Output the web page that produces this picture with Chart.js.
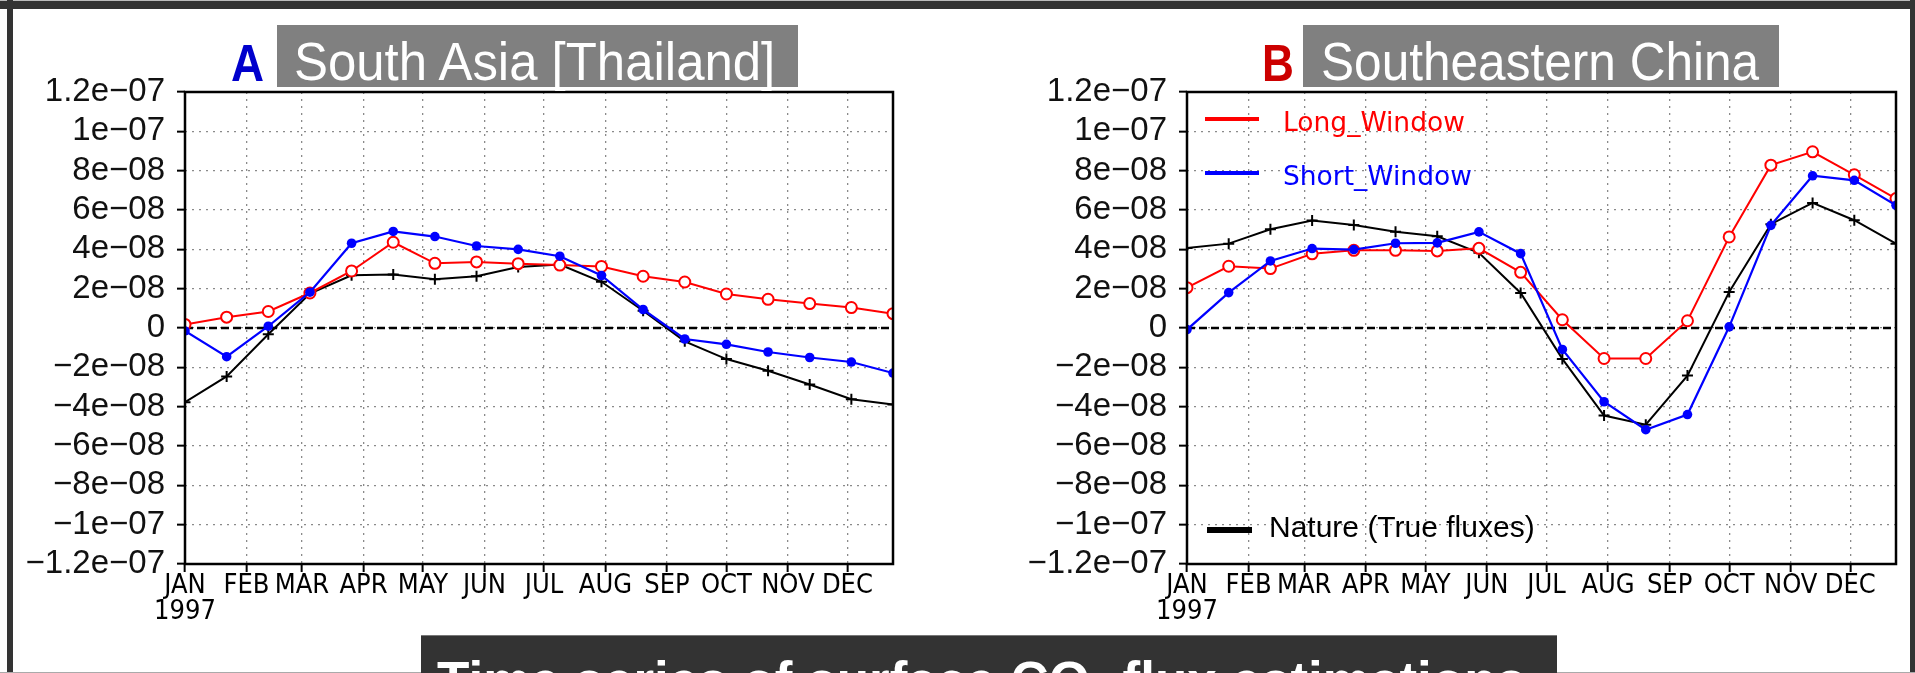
<!DOCTYPE html>
<html><head><meta charset="utf-8">
<script src="https://cdn.jsdelivr.net/npm/chart.js@4"></script>
<style>
html,body{margin:0;padding:0;width:1915px;height:673px;overflow:hidden;background:#fff;}
.abs{position:absolute;white-space:nowrap;line-height:1;}
canvas{position:absolute;top:0;}
.box{position:absolute;}
</style></head><body>
<canvas id="cA" width="940" height="673" style="left:0px"></canvas>
<canvas id="cB" width="913" height="673" style="left:1002px"></canvas>

<!-- frame -->
<div class="box" style="left:0;top:0;width:1915px;height:1px;background:#bbb"></div>
<div class="box" style="left:0;top:1px;width:1915px;height:8px;background:#333"></div>
<div class="box" style="left:7px;top:0;width:6px;height:673px;background:#333"></div>
<div class="box" style="left:1910px;top:0;width:5px;height:673px;background:#333"></div>
<div class="box" style="left:0;top:672px;width:1915px;height:1px;background:#aaa"></div>

<!-- panel titles -->
<div class="abs" style="left:231px;top:33px;font:bold 52px 'Liberation Sans';color:#0000cc;transform:scaleX(0.88);transform-origin:left top">A</div>
<div class="box" style="left:277px;top:25px;width:521px;height:62px;background:#808080"></div>
<div class="abs" style="left:294px;top:30px;font:54px 'Liberation Sans';color:#fff;transform:scaleX(0.943);transform-origin:left top">South Asia [Thailand]</div>

<div class="abs" style="left:1262px;top:33px;font:bold 52px 'Liberation Sans';color:#cc0000;transform:scaleX(0.85);transform-origin:left top">B</div>
<div class="box" style="left:1303px;top:25px;width:476px;height:62px;background:#808080"></div>
<div class="abs" style="left:1321px;top:30px;font:54px 'Liberation Sans';color:#fff;transform:scaleX(0.918);transform-origin:left top">Southeastern China</div>

<!-- legend (panel B) -->
<div class="box" style="left:1205px;top:117px;width:54px;height:4px;background:#ff0000"></div>
<div class="abs" style="left:1283px;top:106px;font:26.5px 'DejaVu Sans';color:#ff0000">Long_Window</div>
<div class="box" style="left:1205px;top:171px;width:54px;height:4px;background:#0000ff"></div>
<div class="abs" style="left:1283px;top:160px;font:26.5px 'DejaVu Sans';color:#0000ff">Short_Window</div>
<div class="box" style="left:1207px;top:527px;width:45px;height:6px;background:#000"></div>
<div class="abs" style="left:1269px;top:510px;font:30px 'Liberation Sans';color:#000">Nature (True fluxes)</div>

<!-- bottom title -->
<div class="box" style="left:421px;top:635px;width:1136px;height:40px;background:#333;border-top:1px solid #777"></div>
<div class="abs" style="left:437px;top:650px;font:bold 53px 'Liberation Sans';color:#fff">Time series of surface CO<sub style="font-size:32px">2</sub> flux estimations</div>

<script>
// ---- data ----
const days = [0, 21, 42, 63, 84, 105, 126, 147, 168, 189, 210, 231, 252, 273, 294, 315, 336, 357];
const axisDays = [0, 357];
const monthStarts = [0, 31, 59, 90, 120, 151, 181, 212, 243, 273, 304, 334];
const monthLabels = ['JAN','FEB','MAR','APR','MAY','JUN','JUL','AUG','SEP','OCT','NOV','DEC'];
const yearLabel = '1997';
const yTicks = [-1.2e-7, -1e-7, -8e-8, -6e-8, -4e-8, -2e-8, 0, 2e-8, 4e-8, 6e-8, 8e-8, 1e-7, 1.2e-7];
const yTickLabels = ['\u22121.2e\u221207','\u22121e\u221207','\u22128e\u221208','\u22126e\u221208','\u22124e\u221208','\u22122e\u221208','0',
                     '2e\u221208','4e\u221208','6e\u221208','8e\u221208','1e\u221207','1.2e\u221207'];

// Panel A: South Asia [Thailand]
const aLong   = [0.18e-8, 0.55e-8, 0.84e-8, 1.78e-8, 2.90e-8, 4.36e-8, 3.29e-8, 3.36e-8, 3.27e-8, 3.20e-8, 3.13e-8, 2.63e-8, 2.34e-8, 1.73e-8, 1.46e-8, 1.24e-8, 1.04e-8, 0.73e-8];
const aShort  = [-0.15e-8, -1.46e-8, 0.09e-8, 1.82e-8, 4.31e-8, 4.91e-8, 4.65e-8, 4.17e-8, 4.00e-8, 3.65e-8, 2.67e-8, 0.94e-8, -0.56e-8, -0.83e-8, -1.22e-8, -1.50e-8, -1.73e-8, -2.29e-8];
const aNature = [-3.77e-8, -2.46e-8, -0.32e-8, 1.75e-8, 2.68e-8, 2.72e-8, 2.48e-8, 2.63e-8, 3.10e-8, 3.23e-8, 2.35e-8, 0.88e-8, -0.68e-8, -1.58e-8, -2.17e-8, -2.87e-8, -3.62e-8, -3.89e-8];

// Panel B: Southeastern China
const bLong   = [2.05e-8, 3.14e-8, 3.02e-8, 3.77e-8, 3.95e-8, 3.95e-8, 3.92e-8, 4.05e-8, 2.83e-8, 0.42e-8, -1.55e-8, -1.55e-8, 0.37e-8, 4.63e-8, 8.28e-8, 8.96e-8, 7.79e-8, 6.58e-8];
const bShort  = [-0.08e-8, 1.80e-8, 3.41e-8, 4.04e-8, 3.99e-8, 4.31e-8, 4.33e-8, 4.89e-8, 3.78e-8, -1.09e-8, -3.75e-8, -5.17e-8, -4.40e-8, 0.06e-8, 5.22e-8, 7.74e-8, 7.51e-8, 6.24e-8];
const bNature = [4.07e-8, 4.29e-8, 5.02e-8, 5.46e-8, 5.24e-8, 4.89e-8, 4.66e-8, 3.82e-8, 1.78e-8, -1.57e-8, -4.45e-8, -4.92e-8, -2.42e-8, 1.83e-8, 5.28e-8, 6.36e-8, 5.48e-8, 4.29e-8];

const zeroLevel = [0, 0];

// ---- chart ----
const framePlugin = {
  id: 'frame',
  afterDatasetsDraw(chart) {
    const {ctx, chartArea: a} = chart;
    ctx.save();
    ctx.strokeStyle = '#000';
    ctx.lineWidth = 2.5;
    ctx.strokeRect(a.left, a.top, a.right - a.left, a.bottom - a.top);
    ctx.restore();
  }
};

function series(vals) { return days.map((d, i) => ({x: d, y: vals[i]})); }

const gridOpts = {color: '#8a8a8a', lineWidth: 1.3, drawTicks: true, tickLength: 8, tickColor: '#000', tickWidth: 2};
const borderOpts = {display: false, dash: [2, 5]};

function makeChart(id, padRight, longV, shortV, natV) {
  return new Chart(document.getElementById(id), {
    type: 'line',
    data: {
      datasets: [
        {label: 'Short_Window', data: series(shortV), borderColor: '#0000ff', backgroundColor: '#0000ff',
         borderWidth: 2.2, pointRadius: 4.8, pointBorderWidth: 0, pointStyle: 'circle', tension: 0, clip: 0, order: 0},
        {label: 'Long_Window', data: series(longV), borderColor: '#ff0000', backgroundColor: '#ffffff',
         borderWidth: 2, pointRadius: 5.5, pointBorderWidth: 2, pointStyle: 'circle', tension: 0, clip: 0, order: 1},
        {label: 'Nature (True fluxes)', data: series(natV), borderColor: '#000000', backgroundColor: '#000000',
         borderWidth: 2, pointRadius: 5.5, pointBorderWidth: 2, pointStyle: 'cross', tension: 0, clip: 0, order: 2},
        {label: 'zero', data: axisDays.map((d, i) => ({x: d, y: zeroLevel[i]})), borderColor: '#000000',
         borderWidth: 2.4, borderDash: [8, 4], pointRadius: 0, tension: 0, clip: 0, order: 3}
      ]
    },
    options: {
      responsive: false, animation: false, devicePixelRatio: 1,
      layout: {padding: {left: 0, top: 92, right: padRight, bottom: 49}},
      plugins: {legend: {display: false}, tooltip: {enabled: false}},
      scales: {
        x: {
          type: 'linear', min: axisDays[0], max: axisDays[1], position: 'bottom',
          afterBuildTicks: s => { s.ticks = monthStarts.map(v => ({value: v})); },
          afterFit: s => { s.height = 60; },
          ticks: {autoSkip: false, maxRotation: 0, minRotation: 0, padding: 1, color: '#000',
                  font: {family: "'Liberation Sans Narrow', 'DejaVu Sans Condensed', 'Liberation Sans'", size: 27, lineHeight: '26px'},
                  callback: (v, i) => i === 0 ? [monthLabels[0], yearLabel] : monthLabels[i]},
          grid: gridOpts, border: borderOpts
        },
        y: {
          type: 'linear', min: yTicks[0], max: yTicks[yTicks.length - 1],
          afterBuildTicks: s => { s.ticks = yTicks.map(v => ({value: v})); },
          afterFit: s => { s.width = 185; },
          ticks: {autoSkip: false, padding: 12, color: '#111', font: {family: "'Liberation Sans'", size: 33},
                  callback: (v, i) => yTickLabels[i]},
          grid: gridOpts, border: borderOpts
        }
      }
    },
    plugins: [framePlugin]
  });
}

makeChart('cA', 47, aLong, aShort, aNature);
makeChart('cB', 19, bLong, bShort, bNature);
</script>
</body></html>
